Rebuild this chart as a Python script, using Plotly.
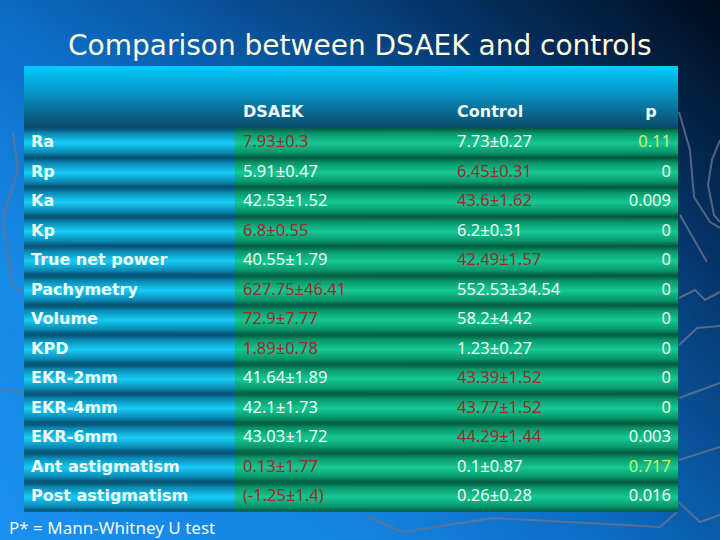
import plotly.graph_objects as go

# ---------------- data ----------------
row_labels = ["Ra", "Rp", "Ka", "Kp", "True net power", "Pachymetry", "Volume", "KPD",
              "EKR-2mm", "EKR-4mm", "EKR-6mm", "Ant astigmatism", "Post astigmatism"]
dsaek_values = ["7.93±0.3", "5.91±0.47", "42.53±1.52", "6.8±0.55", "40.55±1.79",
                "627.75±46.41", "72.9±7.77", "1.89±0.78", "41.64±1.89", "42.1±1.73",
                "43.03±1.72", "0.13±1.77", "(-1.25±1.4)"]
control_values = ["7.73±0.27", "6.45±0.31", "43.6±1.62", "6.2±0.31", "42.49±1.57",
                  "552.53±34.54", "58.2±4.42", "1.23±0.27", "43.39±1.52", "43.77±1.52",
                  "44.29±1.44", "0.1±0.87", "0.26±0.28"]
p_values = ["0.11", "0", "0.009", "0", "0", "0", "0", "0", "0", "0", "0.003", "0.717", "0.016"]
column_headers = ["DSAEK", "Control", "p"]
dsaek_red = [1, 0, 0, 1, 0, 1, 1, 1, 0, 0, 0, 1, 1]
control_red = [0, 1, 1, 0, 1, 0, 0, 0, 1, 1, 1, 0, 0]
p_nonsig = [1, 0, 0, 0, 0, 0, 0, 0, 0, 0, 0, 1, 0]
title_text = "Comparison between DSAEK and controls"
footnote_text = "P* = Mann-Whitney U test"

# ---------------- style ----------------
W, H = 720, 540
PITCH, FIRST = 29.5, 143.0
def prow(p):
    return (p - FIRST) / PITCH

X_LEFT, X_SPLIT, X_RIGHT = 24, 235, 678
HEADER_TOP = prow(66)
RED, WHITE, LIME = "#9a2c28", "#eef8f2", "#c4f46c"
FONT = "DejaVu Sans"
VFONT = "Noto Sans"

n = len(row_labels)
fig = go.Figure()

# background gradient (styling only)
fig.add_trace(go.Heatmap(
    x=[0, 360, 720], y=[prow(0), prow(270), prow(540)],
    z=[[0.64, 0.36, 0.0], [0.95, 0.72, 0.3], [1.0, 0.88, 0.55]],
    zsmooth="best", showscale=False, hoverinfo="skip", zmin=0, zmax=1,
    colorscale=[[0, "#000c1c"], [0.3, "#05356a"], [0.65, "#0c6cc4"], [1, "#1a90ee"]]))

# faint decorative outline strokes of the slide background (pixel space)
deco_paths = [
    [(13, 132), (18, 170), (3, 217), (12, 285), (24, 293)],
    [(0, 390), (24, 392)],
    [(679, 112), (690, 150), (694, 197), (710, 222), (720, 228)],
    [(720, 140), (712, 160), (708, 185), (714, 215), (720, 222)],
    [(680, 215), (707, 262)],
    [(679, 298), (695, 290), (705, 300), (720, 292)],
    [(679, 345), (697, 328), (720, 326)],
    [(679, 398), (720, 383)],
    [(679, 460), (720, 447)],
    [(676, 500), (700, 522), (720, 515)],
    [(367, 517), (403, 532), (493, 518), (660, 527), (677, 512)],
]
dx, dy = [], []
for path in deco_paths:
    for (px, py) in path:
        dx.append(px)
        dy.append(prow(py))
    dx.append(None)
    dy.append(None)
fig.add_trace(go.Scatter(x=dx, y=dy, mode="lines", hoverinfo="skip", showlegend=False,
                         line=dict(color="rgba(105,115,140,0.8)", width=2)))

def band(x0, x1, y0, y1, scale):
    fig.add_trace(go.Scatter(
        x=[x0, x1, x1, x0, x0], y=[y0, y0, y1, y1, y0], mode="lines",
        line=dict(width=0), fill="toself", hoverinfo="skip", showlegend=False,
        fillgradient=dict(type="vertical", colorscale=scale)))

cyan_scale = [[0, "#064a68"], [0.18, "#0a8ab4"], [0.5, "#16ccf6"], [0.82, "#0a8ab4"], [1, "#064a68"]]
green_scale = [[0, "#04583a"], [0.18, "#08966a"], [0.5, "#16c894"], [0.82, "#08966a"], [1, "#04583a"]]
header_scale = [[0, "#0a4a68"], [0.15, "#0a5c80"], [0.55, "#0890c0"], [1, "#00ccff"]]

band(X_LEFT, X_RIGHT, HEADER_TOP, -0.5, header_scale)
for i in range(n):
    band(X_LEFT, X_SPLIT, i - 0.5, i + 0.5, cyan_scale)
    band(X_SPLIT, X_RIGHT, i - 0.5, i + 0.5, green_scale)

rows = list(range(n))
fig.add_trace(go.Scatter(x=[31] * n, y=rows, mode="text", text=row_labels,
                         textposition="middle right", hoverinfo="skip", showlegend=False,
                         textfont=dict(family=FONT, size=16, color=WHITE, weight="bold")))
fig.add_trace(go.Scatter(x=[243] * n, y=rows, mode="text", text=dsaek_values,
                         textposition="middle right", hoverinfo="skip", showlegend=False,
                         textfont=dict(family=VFONT, size=16.5,
                                       color=[RED if r else WHITE for r in dsaek_red])))
fig.add_trace(go.Scatter(x=[457] * n, y=rows, mode="text", text=control_values,
                         textposition="middle right", hoverinfo="skip", showlegend=False,
                         textfont=dict(family=VFONT, size=16.5,
                                       color=[RED if r else WHITE for r in control_red])))
fig.add_trace(go.Scatter(x=[671] * n, y=rows, mode="text", text=p_values,
                         textposition="middle left", hoverinfo="skip", showlegend=False,
                         textfont=dict(family=VFONT, size=16.5,
                                       color=[LIME if r else WHITE for r in p_nonsig])))
# header
hy = prow(113)
fig.add_trace(go.Scatter(x=[243, 457], y=[hy, hy], mode="text", text=column_headers[:2],
                         textposition="middle right", hoverinfo="skip", showlegend=False,
                         textfont=dict(family=FONT, size=16, color=WHITE, weight="bold")))
fig.add_trace(go.Scatter(x=[651], y=[hy], mode="text", text=column_headers[2:],
                         textposition="middle center", hoverinfo="skip", showlegend=False,
                         textfont=dict(family=FONT, size=16, color=WHITE, weight="bold")))

fig.add_annotation(x=360 / W, y=1 - 45 / H, xref="paper", yref="paper", text=title_text,
                   showarrow=False, xanchor="center", yanchor="middle",
                   font=dict(family=FONT, size=28, color="#fcfce0"))
fig.add_annotation(x=7 / W, y=1 - 527 / H, xref="paper", yref="paper", text=footnote_text,
                   showarrow=False, xanchor="left", yanchor="middle",
                   font=dict(family=VFONT, size=17, color=WHITE))

fig.update_layout(
    width=W, height=H, margin=dict(l=0, r=0, t=0, b=0),
    paper_bgcolor="#0a5aa8", plot_bgcolor="#0a5aa8", showlegend=False,
    xaxis=dict(range=[0, W], visible=False, fixedrange=True),
    yaxis=dict(range=[prow(H), prow(0)], visible=False, fixedrange=True),
)
fig.write_html("out.html", config={"displayModeBar": False},
               post_script="document.body.style.margin='0';document.body.style.overflow='hidden';")
